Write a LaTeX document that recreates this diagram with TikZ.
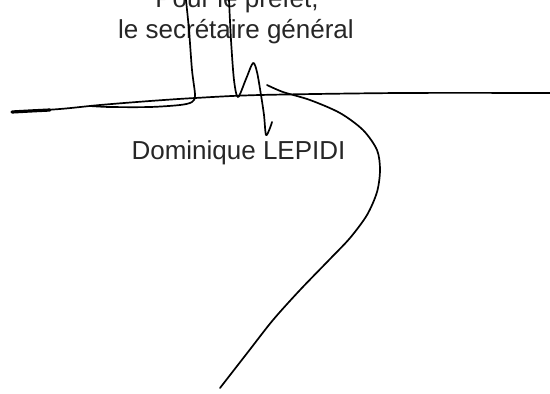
\documentclass[tikz,border=0pt]{standalone}
\usepackage{fontspec}
\setmainfont{Liberation Sans}
\usepackage{tikz}
\usetikzlibrary{positioning}
\tikzset{
    ink/.style={draw=black, line width=1.7pt, line cap=round, line join=round},
    thickink/.style={draw=black, line width=3.2pt, line cap=round},
    typed/.style={inner sep=0pt, anchor=base, text=black!85,
        font=\fontsize{26}{31}\selectfont},
}
\begin{document}
\begin{tikzpicture}[x=1pt, y=-1pt]
	\useasboundingbox (0,0) rectangle (550,394);
	\node[typed] (prefet) at (237,7) {Pour le préfet,};
	\node[typed] (secretaire) at (236,38) {le secrétaire général};
	\node[typed] (nom) at (238.5,159) {Dominique LEPIDI};
	% long stroke
	\draw[thickink] plot[smooth] coordinates {(12,112) (30,111) (50,110)};
	\draw[ink] plot[smooth] coordinates {(12,112) (60,109) (100,105) (150,101) (195,98) (260,95) (400,93) (550,93)};
	% first loop
	\draw[ink] plot[smooth] coordinates {(186,0) (189,30) (192,70) (195,95) (192,102) (180,105) (150,107) (110,107) (90,106)};
	% peak and drop
	\draw[ink] plot[smooth] coordinates {(229,0) (231,40) (234,80) (238,97) (246,79) (253,63) (257,72) (261,95) (264,115) (266,135) (270,128) (272,122)};
	% tail
	\draw[ink] plot[smooth] coordinates {(267,85) (283,92) (310,100) (340,113) (363,130) (377,150) (380,170) (377,192) (367,215) (350,238) (330,259) (300,290) (273,320) (248,352) (220,388)};
\end{tikzpicture}
\end{document}
